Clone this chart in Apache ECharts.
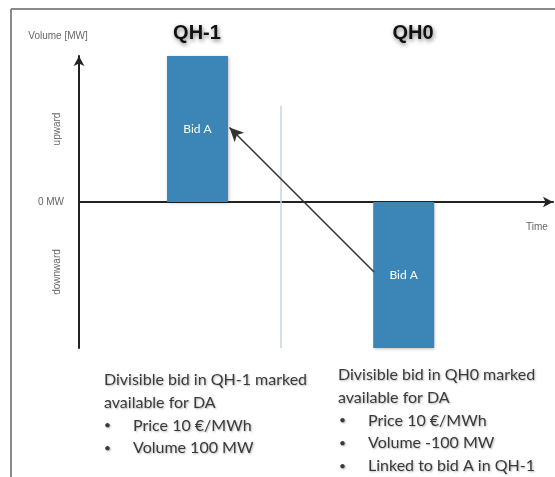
<!DOCTYPE html>
<html><head><meta charset="utf-8">
<script src="https://cdn.jsdelivr.net/npm/echarts@6/dist/echarts.min.js"></script>
<style>html,body{margin:0;padding:0;background:#fff}#c{width:555px;height:477px}</style>
</head><body><div id="c"></div>
<script>
// Data
const quarterNames = ['QH-1', 'QH0'];
const barPositions = [1.0, 2.74];      // time position of each quarter-hour bid
const barVolumes = [100, -100];         // MW
const barLabels = ['Bid A', 'Bid A'];
const yTicks = [-100, 0, 100];
const dividerPos = 1.7;
const linkFrom = [2.49, -48];
const linkTo = [1.27, 51];
const leftText = ['Divisible bid in QH-1 marked', 'available for DA'];
const leftBullets = ['Price 10 €/MWh', 'Volume 100 MW'];
const rightText = ['Divisible bid in QH0 marked', 'available for DA'];
const rightBullets = ['Price 10 €/MWh', 'Volume -100 MW', 'Linked to bid A in QH-1'];

const FONT = 'Lato, "Open Sans", sans-serif';
const txtStyle = (s, x, y, size) => ({
  type: 'text', x: x, y: y,
  style: { text: s, font: (size || 16) + 'px ' + FONT, fill: '#3a3a3a', verticalAlign: 'middle', textShadowColor: 'rgba(0,0,0,0.3)', textShadowBlur: 2, textShadowOffsetX: 1, textShadowOffsetY: 1 }
});

const graphics = [];
// frame
graphics.push({ type: 'line', shape: { x1: 11, y1: 9, x2: 555, y2: 9 }, style: { stroke: '#8a8a8a', lineWidth: 2 } });
graphics.push({ type: 'line', shape: { x1: 11, y1: 9, x2: 11, y2: 477 }, style: { stroke: '#8a8a8a', lineWidth: 2 } });
// titles
const titleX = [197, 413];
quarterNames.forEach((n, i) => graphics.push({
  type: 'text', x: titleX[i], y: 33,
  style: { text: n, font: 'bold 20px Arial, "Liberation Sans", sans-serif', fill: '#111', align: 'center', verticalAlign: 'middle',
    textShadowColor: 'rgba(0,0,0,0.5)', textShadowBlur: 4, textShadowOffsetX: 1, textShadowOffsetY: 2 }
}));
const SMALL = '10px "Liberation Sans", Arial, sans-serif';
graphics.push({ type: 'text', x: 58, y: 36, style: { text: 'Volume [MW]', font: SMALL, fill: '#666', align: 'center', verticalAlign: 'middle' } });
graphics.push({ type: 'text', x: 537, y: 227, style: { text: 'Time', font: SMALL, fill: '#666', align: 'center', verticalAlign: 'middle' } });
graphics.push({ type: 'text', x: 57, y: 129, rotation: Math.PI / 2, style: { text: 'upward', font: SMALL, fill: '#666', align: 'center', verticalAlign: 'middle' } });
graphics.push({ type: 'text', x: 57, y: 272, rotation: Math.PI / 2, style: { text: 'downward', font: SMALL, fill: '#666', align: 'center', verticalAlign: 'middle' } });
// text blocks
const LH = 22.7;
leftText.forEach((s, i) => graphics.push(txtStyle(s, 104, 380 + i * LH)));
leftBullets.forEach((s, i) => {
  graphics.push(txtStyle('•', 104, 380 + (i + 2) * LH, 12));
  graphics.push(txtStyle(s, 133, 380 + (i + 2) * LH));
});
rightText.forEach((s, i) => graphics.push(txtStyle(s, 338, 375 + i * LH)));
rightBullets.forEach((s, i) => {
  graphics.push(txtStyle('•', 339, 375 + (i + 2) * LH, 12));
  graphics.push(txtStyle(s, 368, 375 + (i + 2) * LH));
});

const chart = echarts.init(document.getElementById('c'));
chart.setOption({
  animation: false,
  grid: { left: 79, right: 2, top: 56, bottom: 129 },
  xAxis: {
    type: 'value', min: 0, max: 4,
    axisLine: { onZero: true, lineStyle: { color: '#222', width: 2 }, symbol: ['none', 'arrow'], symbolSize: [8, 10] },
    axisTick: { show: false }, axisLabel: { show: false }, splitLine: { show: false }
  },
  yAxis: {
    type: 'value', min: -100, max: 100, interval: 100,
    axisLine: { show: true, onZero: false, lineStyle: { color: '#222', width: 2 }, symbol: ['none', 'arrow'], symbolSize: [8, 10] },
    axisTick: { show: false }, splitLine: { show: false },
    axisLabel: { formatter: v => (v === 0 ? '0 MW' : ''), color: '#666', fontSize: 10, margin: 15, fontFamily: '"Liberation Sans", Arial, sans-serif' }
  },
  series: [{
    type: 'bar', barWidth: 61,
    data: barPositions.map((x, i) => ({ value: [x, barVolumes[i]] })),
    itemStyle: { color: '#3b86b6', shadowColor: 'rgba(0,0,0,0.25)', shadowBlur: 3, shadowOffsetX: 1, shadowOffsetY: 1 },
    label: { show: true, position: 'inside', formatter: p => barLabels[p.dataIndex], color: '#fff', fontSize: 12, fontFamily: 'Lato, "Liberation Sans", sans-serif' },
    markLine: {
      silent: true, animation: false,
      data: [
        [{ coord: [dividerPos, 66], symbol: 'none', lineStyle: { color: '#c8d4de', width: 1.5, type: 'solid' } },
         { coord: [dividerPos, -100], symbol: 'none' }],
        [{ coord: linkFrom, symbol: 'none', lineStyle: { color: '#333', width: 1.5, type: 'solid' } },
         { coord: linkTo, symbol: 'arrow', symbolSize: [10, 14] }]
      ],
      label: { show: false }
    }
  }],
  graphic: graphics
});
</script></body></html>
